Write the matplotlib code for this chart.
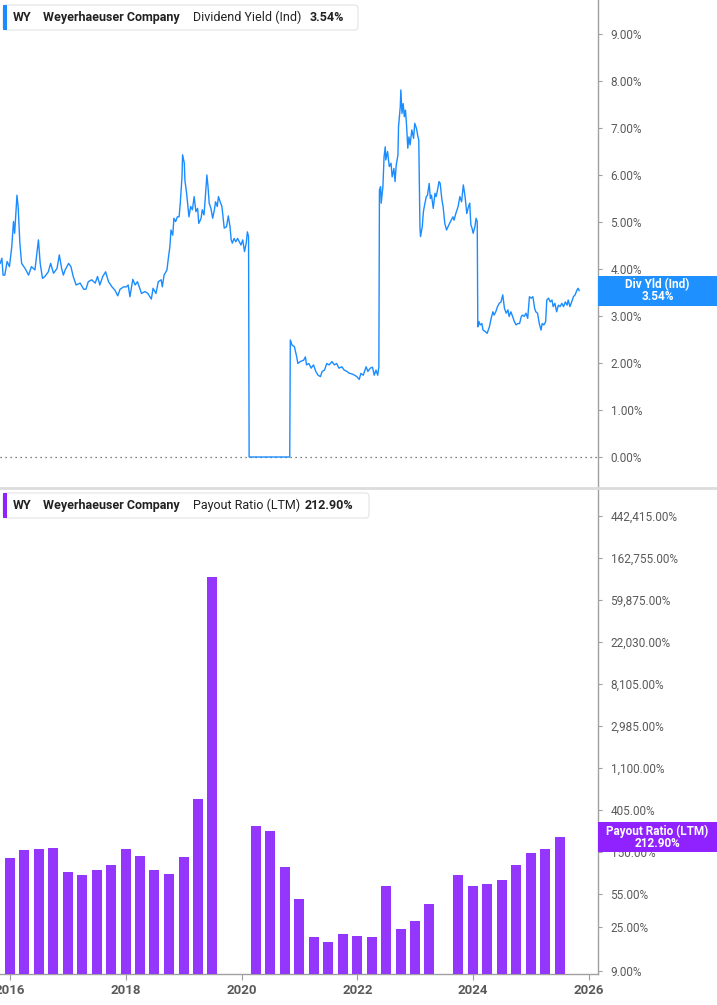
import datetime as dt
import numpy as np
import matplotlib
matplotlib.use("Agg")
import matplotlib.pyplot as plt
import matplotlib.dates as mdates
from matplotlib.patches import Rectangle, FancyBboxPatch
from matplotlib.lines import Line2D

plt.rcParams['font.family'] = ['Roboto', 'DejaVu Sans']

# ---------------- data ----------------
ticker = "WY"
company = "Weyerhaeuser Company"
yield_name = "Dividend Yield (Ind)"
yield_last = "3.54%"
yield_tag = "Div Yld (Ind)"
payout_name = "Payout Ratio (LTM)"
payout_last = "212.90%"

# dividend yield (%) vs decimal year
yield_t = [2015.83, 2015.86, 2015.88, 2015.91, 2015.95, 2015.99, 2016.03, 2016.06, 2016.08, 2016.12,
           2016.14, 2016.17, 2016.20, 2016.26, 2016.32, 2016.37, 2016.43, 2016.46, 2016.49, 2016.52,
           2016.56, 2016.60, 2016.66, 2016.70, 2016.75, 2016.81, 2016.85, 2016.89, 2016.92, 2016.95,
           2017.01, 2017.05, 2017.09, 2017.14, 2017.21, 2017.27, 2017.31, 2017.35, 2017.41, 2017.47,
           2017.51, 2017.55, 2017.60, 2017.65, 2017.70, 2017.76, 2017.81, 2017.86, 2017.90, 2017.96,
           2018.01, 2018.04, 2018.07, 2018.12, 2018.16, 2018.20, 2018.23, 2018.27,
           2018.33, 2018.38, 2018.44, 2018.47, 2018.52, 2018.56, 2018.61, 2018.63, 2018.66, 2018.71,
           2018.73, 2018.76, 2018.78, 2018.81, 2018.83, 2018.86, 2018.89, 2018.92, 2018.94, 2018.97,
           2018.98, 2019.01, 2019.02, 2019.05, 2019.07, 2019.09, 2019.12, 2019.15, 2019.18, 2019.21,
           2019.24, 2019.26, 2019.30, 2019.32, 2019.35, 2019.37, 2019.40, 2019.42, 2019.44, 2019.47,
           2019.50, 2019.53, 2019.55, 2019.58, 2019.60, 2019.63, 2019.66, 2019.68, 2019.70, 2019.74,
           2019.77, 2019.80, 2019.82, 2019.84, 2019.87, 2019.90, 2019.93, 2019.96, 2019.99, 2020.02,
           2020.05, 2020.08, 2020.10, 2020.12, 2020.13, 2020.83,
           2020.84, 2020.87, 2020.91, 2020.95, 2020.97, 2021.01, 2021.07, 2021.10, 2021.12, 2021.16,
           2021.20, 2021.24, 2021.28, 2021.32, 2021.36, 2021.39, 2021.43, 2021.47, 2021.51, 2021.56,
           2021.60, 2021.64, 2021.68, 2021.73, 2021.77, 2021.82, 2021.86, 2021.90, 2021.95, 2021.99,
           2022.03, 2022.06, 2022.10, 2022.15, 2022.18, 2022.22, 2022.26, 2022.29, 2022.32, 2022.35,
           2022.37, 2022.38, 2022.40, 2022.41, 2022.44, 2022.46, 2022.48, 2022.49, 2022.52, 2022.55,
           2022.58, 2022.60, 2022.63, 2022.65, 2022.67, 2022.70, 2022.71, 2022.74, 2022.75, 2022.77,
           2022.79, 2022.81, 2022.83, 2022.85, 2022.87, 2022.89, 2022.91, 2022.94, 2022.97, 2022.99,
           2023.02, 2023.04, 2023.06, 2023.08, 2023.09, 2023.12, 2023.14, 2023.16, 2023.19, 2023.21,
           2023.24, 2023.26, 2023.28, 2023.31, 2023.34, 2023.36, 2023.39, 2023.41,
           2023.43, 2023.46, 2023.48, 2023.51, 2023.54, 2023.58, 2023.62, 2023.65, 2023.67, 2023.70,
           2023.74, 2023.77, 2023.80, 2023.83, 2023.86, 2023.89, 2023.92, 2023.94, 2023.96, 2023.98,
           2024.00, 2024.03, 2024.05, 2024.07, 2024.08, 2024.10, 2024.12, 2024.15, 2024.17, 2024.21,
           2024.24, 2024.28, 2024.31, 2024.34, 2024.36, 2024.39, 2024.42, 2024.45, 2024.48, 2024.51,
           2024.54, 2024.57, 2024.60, 2024.62, 2024.65, 2024.68, 2024.71, 2024.74, 2024.77, 2024.80,
           2024.83, 2024.85, 2024.88, 2024.91, 2024.94, 2024.97, 2025.00, 2025.03, 2025.06, 2025.08,
           2025.11, 2025.14, 2025.17, 2025.19, 2025.22, 2025.25, 2025.27, 2025.30, 2025.33, 2025.36,
           2025.38, 2025.41, 2025.44, 2025.47, 2025.50, 2025.53, 2025.56, 2025.59, 2025.62, 2025.64,
           2025.67, 2025.70, 2025.73, 2025.76, 2025.79, 2025.81, 2025.83]
yield_v = [4.12, 4.23, 3.87, 3.87, 4.16, 4.05, 4.47, 5.01, 4.76, 5.57,
           5.33, 4.55, 4.12, 4.01, 3.87, 4.05, 3.98, 4.30, 4.62, 4.12,
           3.80, 3.84, 3.94, 4.12, 3.91, 4.01, 4.30, 4.01, 3.87, 3.98,
           4.12, 4.05, 3.84, 3.66, 3.70, 3.57, 3.57, 3.73, 3.77, 3.70,
           3.84, 3.66, 3.84, 3.94, 3.73, 3.62, 3.55, 3.43, 3.57, 3.62,
           3.62, 3.66, 3.41, 3.78, 3.66, 3.73, 3.62, 3.48,
           3.52, 3.48, 3.36, 3.59, 3.48, 3.73, 3.77, 3.62, 3.87, 3.98,
           4.19, 4.47, 4.83, 4.72, 5.08, 5.01, 5.11, 5.11, 5.40, 5.96,
           6.43, 6.25, 5.89, 5.61, 5.36, 5.11, 5.33, 5.26, 5.54, 5.22,
           5.29, 4.97, 5.08, 5.26, 5.15, 5.47, 6.00, 5.75, 5.40, 5.29,
           5.08, 5.26, 5.43, 5.33, 5.54, 5.43, 5.33, 5.11, 4.87, 4.90,
           5.13, 4.90, 4.62, 4.55, 4.65, 4.58, 4.65, 4.58, 4.51, 4.62,
           4.37, 4.55, 4.79, 4.69, 0.00, 0.00,
           2.49, 2.38, 2.35, 2.13, 1.99, 2.03, 2.06, 2.13, 1.96, 1.99,
           1.89, 1.96, 1.82, 1.74, 1.71, 1.82, 1.85, 1.99, 1.96, 2.03,
           1.96, 1.99, 1.89, 1.92, 1.85, 1.82, 1.78, 1.77, 1.74, 1.71,
           1.65, 1.78, 1.74, 1.92, 1.82, 1.89, 1.91, 1.74, 1.85, 1.74,
           1.92, 5.68, 5.75, 5.40, 5.75, 6.39, 6.60, 6.32, 6.50, 6.18,
           6.25, 5.96, 6.14, 5.86, 6.21, 6.43, 7.03, 7.45, 7.81, 7.31,
           7.52, 7.24, 7.38, 7.03, 6.57, 6.81, 6.64, 6.96, 6.78, 7.10,
           6.99, 6.85, 6.74, 4.90, 4.69, 4.90, 5.22, 5.36, 5.54, 5.57,
           5.82, 5.50, 5.57, 5.29, 5.61, 5.54, 5.72, 5.86,
           5.82, 5.47, 5.33, 4.97, 4.83, 4.94, 5.04, 5.11, 5.04, 5.18,
           5.33, 5.54, 5.43, 5.79, 5.54, 5.18, 5.33, 5.40, 4.94, 4.87,
           4.76, 4.90, 5.08, 5.01, 2.77, 2.88, 2.81, 2.84, 2.70, 2.67,
           2.63, 2.77, 2.95, 3.09, 3.02, 3.09, 3.20, 3.27, 3.30, 3.45,
           3.16, 3.06, 3.13, 2.99, 3.09, 2.99, 2.88, 2.81, 2.84, 2.84,
           2.99, 3.02, 2.99, 3.06, 2.95, 3.41, 3.38, 3.41, 3.16, 3.09,
           3.06, 2.84, 2.70, 2.84, 2.81, 2.88, 3.34, 3.38, 3.30, 3.34,
           3.20, 3.27, 3.09, 3.23, 3.20, 3.27, 3.20, 3.30, 3.23, 3.34,
           3.20, 3.30, 3.41, 3.45, 3.55, 3.59, 3.54]

# payout ratio (%) per quarter end
payout_dates = ["2015-12-31", "2016-03-31", "2016-06-30", "2016-09-30", "2016-12-31",
                "2017-03-31", "2017-06-30", "2017-09-30", "2017-12-31", "2018-03-31",
                "2018-06-30", "2018-09-30", "2018-12-31", "2019-03-31", "2019-06-30",
                "2020-03-31", "2020-06-30", "2020-09-30", "2020-12-31", "2021-03-31",
                "2021-06-30", "2021-09-30", "2021-12-31", "2022-03-31", "2022-06-30",
                "2022-09-30", "2022-12-31", "2023-03-31",
                "2023-09-30", "2023-12-31", "2024-03-31", "2024-06-30", "2024-09-30",
                "2024-12-31", "2025-03-31", "2025-06-30"]
payout_v = [130, 155, 162, 166, 93, 85.5, 98, 108, 162, 137,
            98, 89, 133, 531, 103300,
            280, 248, 103, 47.9, 19.1, 16.7, 20.5, 19.6, 19.1, 65.7,
            23.1, 28.4, 42.5,
            86.7, 65.7, 70, 77, 108, 147, 160, 212.9]

yield_ticks = [0, 1, 2, 3, 4, 5, 6, 7, 8, 9]
payout_ticks = [9, 25, 55, 150, 405, 1100, 2985, 8105, 22030, 59875, 162755, 442415]
year_ticks = [2016, 2018, 2020, 2022, 2024, 2026]

# ---------------- helpers ----------------
def dec_to_date(y):
    yr = int(np.floor(y))
    start = dt.datetime(yr, 1, 1)
    end = dt.datetime(yr + 1, 1, 1)
    return start + (end - start) * (y - yr)

W, H = 717, 1005
fig = plt.figure(figsize=(W / 100, H / 100), dpi=100)

def fx(px):
    return px / W

def fy(py):
    return 1 - py / H

BLUE = '#1a8cff'
PURPLE = '#9436fb'
PURPLE_TAG = '#8f22ff'
TICKC = '#5a5a5a'
SPINEC = '#a0a0a0'

x_left = dec_to_date(2015.827)
x_right = dec_to_date(2026.155)

# ---------------- top panel ----------------
ax1 = fig.add_axes([0, fy(487), fx(598), (487 - 0) / H])
ax1.plot([dec_to_date(t) for t in yield_t], yield_v, color=BLUE, lw=1.0, zorder=3)
ax1.axhline(0, color='#555555', lw=0.9, ls=(0, (1, 3)), zorder=2)
ax1.set_xlim(x_left, x_right)
ax1.set_ylim(-30 / 47, 457 / 47)
ax1.yaxis.tick_right()
ax1.set_yticks(yield_ticks)
ax1.set_yticklabels([f"{v:.2f}%" for v in yield_ticks])
ax1.tick_params(axis='y', direction='out', length=3, width=0.8, colors=SPINEC,
                labelcolor=TICKC, labelsize=8.5, pad=6)
ax1.set_xticks([])
for s in ['top', 'left', 'bottom']:
    ax1.spines[s].set_visible(False)
ax1.spines['right'].set_color(SPINEC)
ax1.spines['right'].set_linewidth(1.0)

# ---------------- bottom panel ----------------
ax2 = fig.add_axes([0, fy(974), fx(598), (974 - 489) / H])
bar_x = [dt.datetime.strptime(d, "%Y-%m-%d") for d in payout_dates]
ax2.bar(bar_x, payout_v, width=63, bottom=1, color=PURPLE, zorder=3)
ax2.set_yscale('log')
ax2.set_xlim(x_left, x_right)
ylo = 9 * np.exp(-(974 - 970.5) / 42.1)
yhi = 9 * np.exp((970.5 - 489) / 42.1)
ax2.set_ylim(ylo, yhi)
ax2.yaxis.tick_right()
ax2.set_yticks(payout_ticks)
ax2.set_yticklabels([f"{v:,.2f}%" for v in payout_ticks])
ax2.yaxis.set_minor_locator(matplotlib.ticker.NullLocator())
ax2.tick_params(axis='y', direction='out', length=3, width=0.8, colors=SPINEC,
                labelcolor=TICKC, labelsize=8.5, pad=6)
ax2.set_xticks([dt.datetime(y, 1, 1) for y in year_ticks])
ax2.set_xticklabels([str(y) for y in year_ticks])
ax2.tick_params(axis='x', direction='out', length=4, width=0.8, colors=SPINEC,
                labelcolor=TICKC, labelsize=9.5, pad=3)
for lab in ax2.get_xticklabels():
    lab.set_fontweight('bold')
for s in ['top', 'left']:
    ax2.spines[s].set_visible(False)
for s in ['right', 'bottom']:
    ax2.spines[s].set_color(SPINEC)
    ax2.spines[s].set_linewidth(1.0)

# separator between panels
fig.add_artist(Line2D([0, 1], [fy(488), fy(488)], transform=fig.transFigure,
                      color='#dcdcdc', lw=2.0, zorder=1))

# ---------------- legend boxes ----------------
def legend_box(y0, y1, x1, color, parts):
    box = FancyBboxPatch((fx(3), fy(y1)), fx(x1) - fx(3), fy(y0) - fy(y1),
                         boxstyle="round,pad=0,rounding_size=0.004",
                         transform=fig.transFigure, facecolor='white',
                         edgecolor='#e3e3e3', lw=0.8, zorder=6)
    fig.add_artist(box)
    fig.add_artist(Rectangle((fx(3), fy(y1)), fx(3.5), fy(y0) - fy(y1),
                             transform=fig.transFigure, facecolor=color,
                             edgecolor='none', zorder=7))
    yc = fy((y0 + y1) / 2)
    for xpx, txt, wgt in parts:
        fig.text(fx(xpx), yc, txt, ha='left', va='center', fontsize=9,
                 fontweight=wgt, color='#222222', zorder=8)

legend_box(5, 30, 358, BLUE,
           [(13, ticker, 'bold'), (43, company, 'bold'),
            (193, yield_name, 'normal'), (310, yield_last, 'bold')])
legend_box(493, 518, 369, PURPLE_TAG,
           [(13, ticker, 'bold'), (43, company, 'bold'),
            (193, payout_name, 'normal'), (305, payout_last, 'bold')])

# ---------------- right value tags ----------------
def value_tag(ax, val, color, line1, line2):
    disp = ax.transData.transform((mdates.date2num(x_right), val))
    yfig = fig.transFigure.inverted().transform(disp)[1]
    h = 30 / H
    fig.add_artist(Rectangle((fx(598), yfig - h / 2), 1 - fx(598), h,
                             transform=fig.transFigure, facecolor=color,
                             edgecolor='none', zorder=6))
    xc = fx(598 + (717 - 598) / 2)
    fig.text(xc, yfig + 6 / H, line1, ha='center', va='center', color='white',
             fontsize=8.5, fontweight='bold', zorder=7)
    fig.text(xc, yfig - 6 / H, line2, ha='center', va='center', color='white',
             fontsize=8.5, fontweight='bold', zorder=7)

value_tag(ax1, yield_v[-1], '#1e90ff', yield_tag, yield_last)
value_tag(ax2, payout_v[-1], PURPLE_TAG, payout_name, payout_last)

fig.savefig("out.png", dpi=100)
